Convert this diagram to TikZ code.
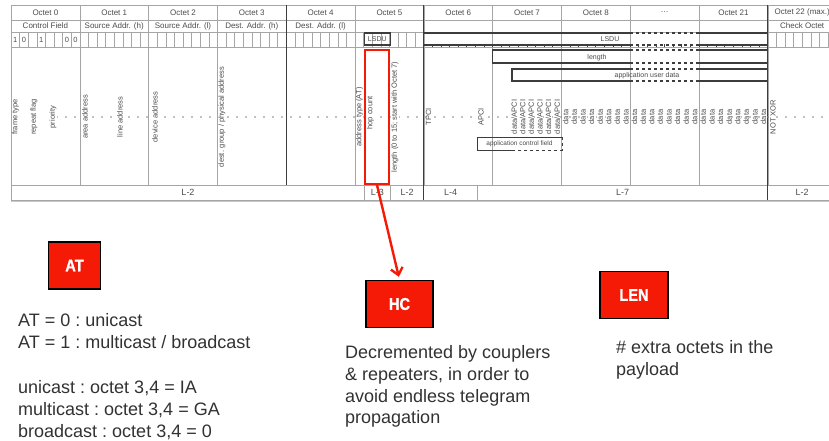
\documentclass[tikz,border=0pt]{standalone}
\usepackage{fontspec}
\setmainfont{Liberation Sans}
\newfontfamily\tagfont[FakeStretch=0.86,FakeBold=1.2]{Liberation Sans}
\usetikzlibrary{arrows.meta,positioning}
\definecolor{tagred}{RGB}{244,26,6}
\definecolor{gridcol}{RGB}{165,165,165}
\definecolor{dotcol}{RGB}{130,130,130}
\definecolor{rulecol}{RGB}{60,60,60}
\definecolor{cellcol}{RGB}{75,75,75}
\definecolor{notecol}{RGB}{50,50,50}
\tikzset{
  tagbox/.style ={draw=black, line width=1.5pt, fill=tagred, minimum height=47pt,
                  minimum width=#1, text=white, font=\tagfont\fontsize{17}{17}\selectfont\bfseries},
  hdr/.style    ={font=\fontsize{8}{8}\selectfont, text=cellcol, inner sep=0pt},
  vlab/.style   ={rotate=90, font=\fontsize{7.5}{7.5}\selectfont, text=cellcol,
                  fill=white, inner sep=0.3pt},
  barlab/.style ={font=\fontsize{7}{7}\selectfont, text=cellcol, inner sep=0pt},
  llab/.style   ={font=\fontsize{9}{9}\selectfont, text=cellcol, inner sep=0pt},
  gridln/.style ={draw=gridcol, line width=0.6pt},
  heavyln/.style={draw=rulecol, line width=1.1pt},
  barln/.style  ={draw=rulecol, line width=1.1pt},
  dotln/.style  ={draw=dotcol, line width=1.8pt, line cap=round, dash pattern=on 0pt off 9pt},
  note/.style   ={font=\frenchspacing\fontsize{18}{21.7}\selectfont, text=notecol, align=left,
                  inner sep=0pt, anchor=north west},
  redarr/.style ={-{Straight Barb[length=7pt,width=12pt]}, line width=2.4pt, draw=tagred},
}

\begin{document}
\begin{tikzpicture}[x=1pt, y=-1pt]
\useasboundingbox (0,0) rectangle (829,441);
\clip (0,0) rectangle (829,441);

%% Table frame and rows
\draw[gridln] (11,5) rectangle (837,200);
\foreach \y in {20,32,47,185} \draw[gridln] (11,\y) -- (837,\y);
\draw[draw=gridcol!60, line width=1.2pt] (11,201.5) -- (837,201.5);

%% Octet columns and bit cells
\foreach \i in {1,...,11} \draw[gridln] ({11+68.8*\i},5) -- ({11+68.8*\i},185);
\foreach \i in {0,1,2,3,4,5,11} \foreach \b in {1,...,7}
  \draw[gridln] ({11+68.8*\i+8.6*\b},32) -- ++(0,15);
\foreach \k in {1,...,39} \draw[barln, line width=0.8pt] ({423.8+8.6*\k},44.5) -- ++(0,3);
\draw[heavyln] (286.2,5) -- (286.2,185);
\foreach \x in {423.8,767.8} \draw[heavyln] (\x,5) -- (\x,200);
\foreach \x in {364.4,390.2,477.4} \draw[gridln] (\x,185) -- (\x,200);

%% Header texts
\foreach \i/\t in {0/Octet 0,1/Octet 1,2/Octet 2,3/Octet 3,4/Octet 4,5/Octet 5,
                   6/Octet 6,7/Octet 7,8/Octet 8,9/{\dots},10/Octet 21,11/Octet 22 (max.)}
  \node[hdr] (oct\i) at ({45.4+68.8*\i},12.5) {\t};
\foreach \i/\t in {0/Control Field,1/Source Addr. (h),2/Source Addr. (l),
                   3/Dest. Addr. (h),4/Dest. Addr. (l),11/Check Octet}
  \node[hdr] (fld\i) at ({45.4+68.8*\i},26) {\t};
\foreach \b/\v in {0/1,1/0,3/1,6/0,7/0}
  \node[hdr, font=\fontsize{7.5}{7.5}\selectfont] (ctl\b) at ({15.3+8.6*\b},39.5) {\v};
\node[barln, barlab, minimum width=25.8pt, minimum height=12pt] (lsdufive) at (377.3,39) {LSDU};

%% LSDU, length and user data bars
\foreach \xl/\ya/\yb in {423.8/33/45,492.6/50/63,512/69/81}{
  \draw[barln] (630.2,\ya) -- (\xl,\ya) -- (\xl,\yb) -- (630.2,\yb);
  \draw[barln, dashed] (630.2,\ya) -- (699,\ya) (630.2,\yb) -- (699,\yb);
  \draw[barln] (699,\ya) -- (767.8,\ya) -- (767.8,\yb) -- (699,\yb);
}
\node[barlab] (lsdubar) at (610,39) {LSDU};
\node[barlab] (lenbar)  at (597,58) {length};
\node[barlab] (udata)   at (647,75.5) {application user data};

%% Field names
\draw[dotln] (57,117) -- (837,117);
\foreach \x/\t [count=\n] in {15.5/frame type,34/repeat flag,53/priority,85/area address,
    120/line address,155/device address,222/{dest. group / physical address},
    359.5/address type (AT),395/length (0 to 15; start with Octet 7),428.5/TPCI,
    481/APCI,773/NOT XOR}
  \node[vlab] (fname\n) at (\x,117) {\t};
\node[vlab] (hopcnt) at (370.5,113) {hop count};
\foreach \k in {0,...,5} \node[vlab] (dapci\k) at ({514.1+8.6*\k},117) {data/APCI};
\foreach \k in {0,...,23} \node[vlab] (data\k) at ({565.7+8.6*\k},117) {data};

\node[barlab, font=\fontsize{6.5}{6.5}\selectfont] (acf) at (519.5,143.5) {application control field};
\draw[barln, line width=0.9pt] (513,150) -- (477.4,150) -- (477.4,137) -- (562,137);
\draw[barln, line width=0.9pt, dashed] (562,137) -- (562,150) -- (513,150);

%% Layers
\foreach \x/\t [count=\n] in {188/L-2,377.3/L-3,407/L-2,450.6/L-4,622.6/L-7,802/L-2}
  \node[llab] (layer\n) at (\x,192.5) {\t};

%% Hop count highlight and tags
\node[draw=tagred, line width=2.2pt, minimum width=24pt, minimum height=134pt] (hcfield) at (377,117) {};
\node[tagbox=52pt] (attag)  at (74.5,265.5) {AT};
\node[tagbox=67pt] (hctag)  at (399.5,304) {HC};
\node[tagbox=68pt] (lentag) at (634,295) {LEN};
\draw[redarr, shorten >=3pt] (hcfield.south) -- (hctag.north);

%% Notes
\node[note] (atnote)  at (18,313.5) {AT = 0 : unicast\\AT = 1 : multicast / broadcast};
\node[note] (atcase)  at (18,380.5) {unicast : octet 3,4 = IA\\multicast : octet 3,4 = GA\\broadcast : octet 3,4 = 0};
\node[note] (hcnote)  at (345,345.5) {Decremented by couplers\\\& repeaters, in order to\\avoid endless telegram\\propagation};
\node[note] (lennote) at (616,340.5) {\# extra octets in the\\payload};

\end{tikzpicture}
\end{document}
